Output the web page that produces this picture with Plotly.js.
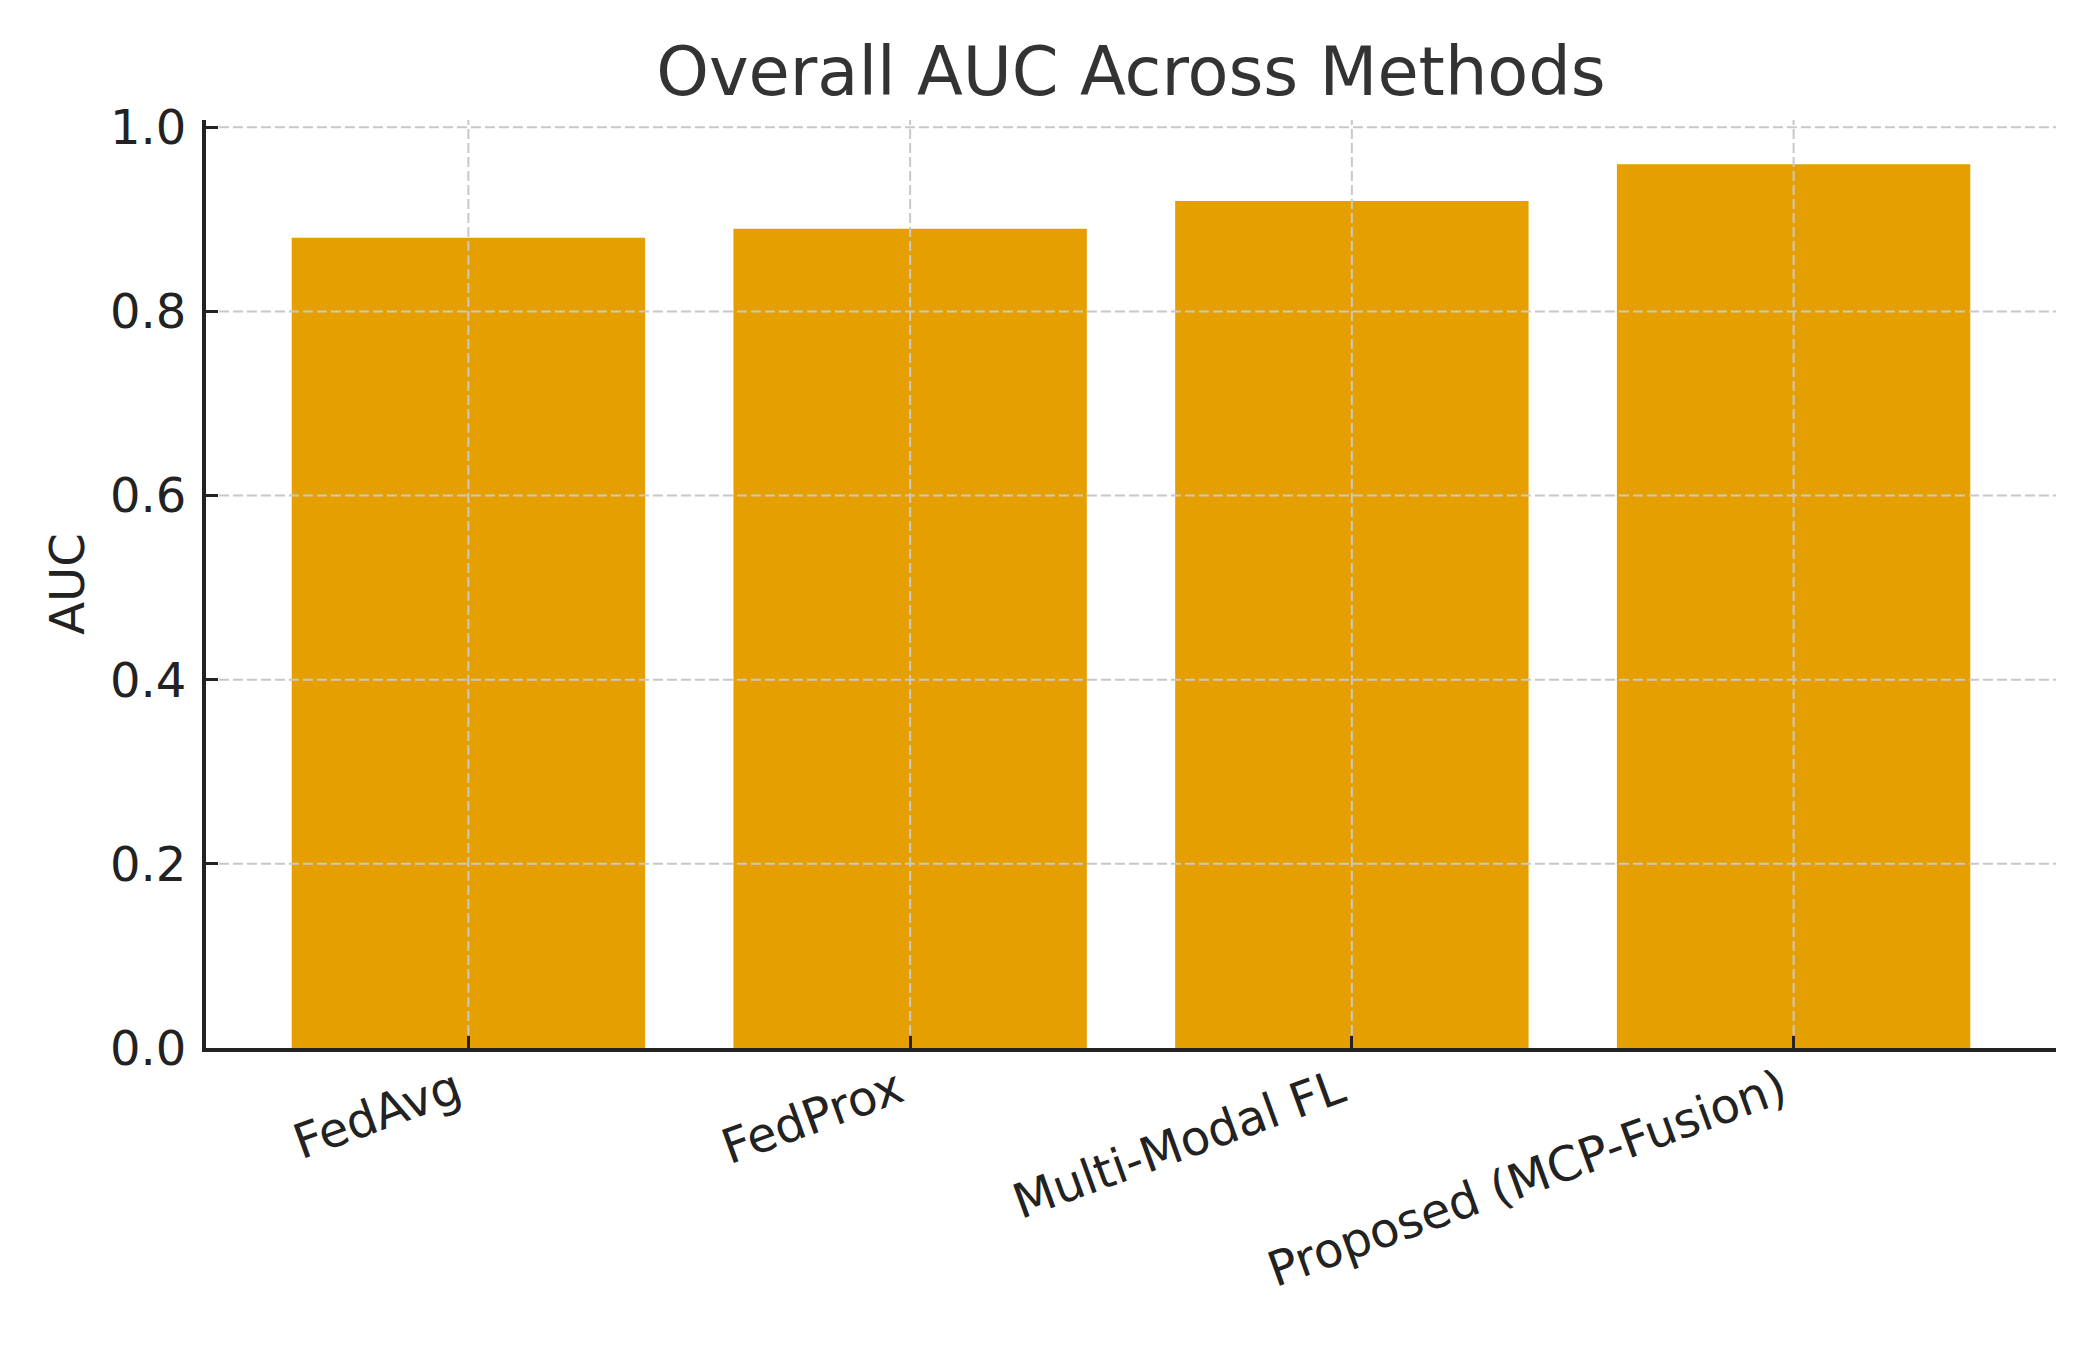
<!DOCTYPE html>
<html>
<head>
<meta charset="utf-8">
<script src="https://cdn.plot.ly/plotly-3.0.1.min.js"></script>
<style>html,body{margin:0;padding:0;background:#fff;}#chart{width:2100px;height:1350px;}</style>
</head>
<body>
<div id="chart"></div>
<script>
const methods = ["FedAvg", "FedProx", "Multi-Modal FL", "Proposed (MCP-Fusion)"];
const aucValues = [0.88, 0.89, 0.92, 0.96];
const yTickValues = [0.0, 0.2, 0.4, 0.6, 0.8, 1.0];
const yTickLabels = ["0.0", "0.2", "0.4", "0.6", "0.8", "1.0"];

const FONT = "DejaVu Sans, Liberation Sans, sans-serif";
const gridStyle = {color: "#c8c8c8", width: 2, dash: "10px,4px"};

const shapes = [];
yTickValues.forEach(v => {
  if (v > 0) shapes.push({type: "line", layer: "above", xref: "paper", yref: "y", x0: 0.007, x1: 1, y0: v, y1: v, line: gridStyle});
});
methods.forEach(m => {
  shapes.push({type: "line", layer: "above", xref: "x", yref: "paper", x0: m, x1: m, y0: 0.014, y1: 1, line: gridStyle});
});

const trace = {
  type: "bar",
  x: methods,
  y: aucValues,
  width: 0.8,
  marker: {color: "#E69F00", line: {width: 0}},
  hoverinfo: "skip"
};

const layout = {
  width: 2100,
  height: 1350,
  paper_bgcolor: "#ffffff",
  plot_bgcolor: "#ffffff",
  margin: {l: 206, r: 44, t: 120, b: 302},
  showlegend: false,
  font: {family: FONT, color: "#222222", size: 48},
  title: {
    text: "Overall AUC Across Methods",
    font: {family: FONT, size: 67, color: "#333333"},
    x: 0.5, xref: "paper", xanchor: "center",
    y: 1 - 72 / 1350, yref: "container", yanchor: "middle"
  },
  xaxis: {
    type: "category",
    range: [-0.594, 3.594],
    showgrid: false,
    zeroline: false,
    showline: true,
    linecolor: "#222222",
    linewidth: 4,
    mirror: false,
    layer: "above traces",
    ticks: "inside",
    ticklen: 12,
    tickwidth: 3,
    tickcolor: "#222222",
    tickangle: -20,
    tickfont: {family: FONT, size: 48, color: "#222222"},
    ticklabelstandoff: -8,
    ticklabelshift: -12
  },
  yaxis: {
    range: [0, 1.008],
    tickvals: yTickValues,
    ticktext: yTickLabels,
    showgrid: false,
    zeroline: false,
    showline: true,
    linecolor: "#222222",
    linewidth: 4,
    layer: "above traces",
    ticks: "inside",
    ticklen: 12,
    tickwidth: 3,
    tickcolor: "#222222",
    tickfont: {family: FONT, size: 48, color: "#222222"},
    ticklabelstandoff: 6,
    title: {text: "AUC", font: {family: FONT, size: 48, color: "#222222"}, standoff: 11}
  },
  shapes: shapes,
  bargap: 0.2
};

Plotly.newPlot("chart", [trace], layout, {displayModeBar: false, staticPlot: true});
</script>
</body>
</html>
